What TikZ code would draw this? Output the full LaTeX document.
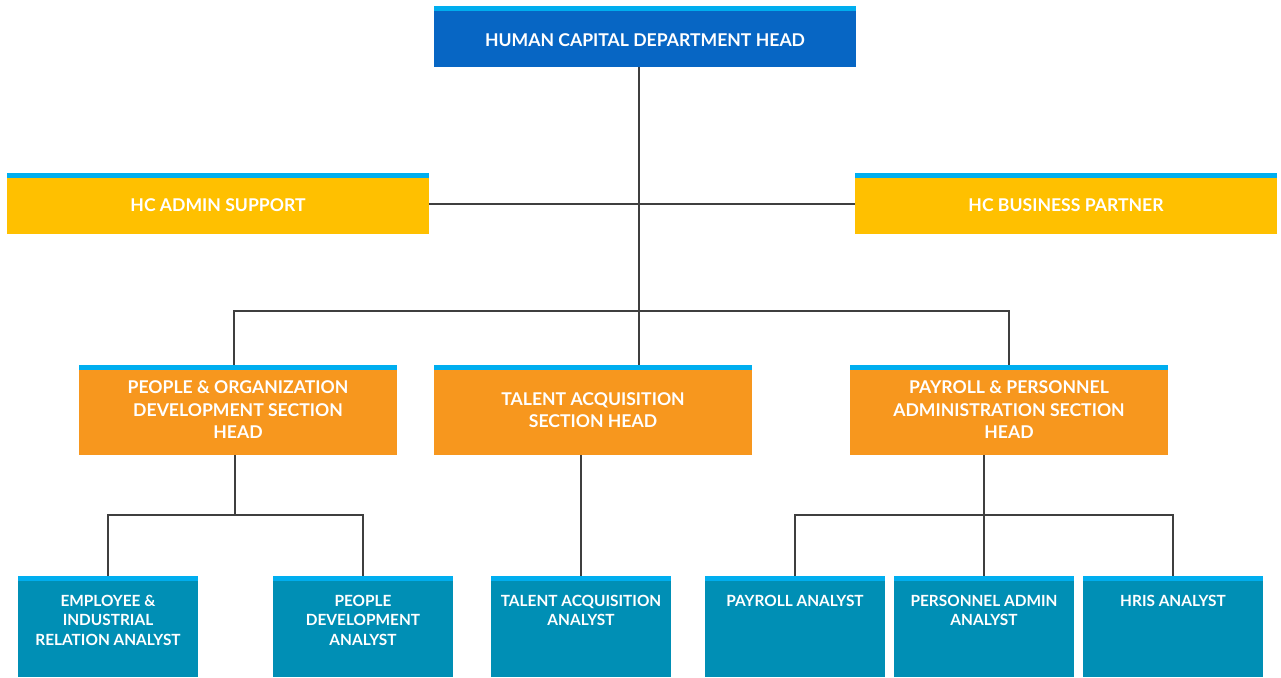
\documentclass[tikz,border=0pt]{standalone}
\usepackage{fontspec}
\setmainfont{Lato}
\usetikzlibrary{positioning, calc}
\definecolor{hcblue}{HTML}{0766C4}
\definecolor{hcstripe}{HTML}{00AEEF}
\definecolor{hcyellow}{HTML}{FFC000}
\definecolor{hcorange}{HTML}{F7971E}
\definecolor{hcteal}{HTML}{008FB5}
\definecolor{hcline}{HTML}{3F3F3F}

\begin{document}
\begin{tikzpicture}[
      x=1pt, y=-1pt,
      box/.style={rectangle, inner sep=0pt, text=white, align=center,
                  font=\bfseries\fontsize{17.6}{22.5}\selectfont,
                  path picture={\fill[hcstripe] (path picture bounding box.north west)
                    rectangle ([yshift=-5pt]path picture bounding box.north east);}},
      headbox/.style={box, fill=hcblue, minimum width=422pt, minimum height=61pt,
                      text height=21pt, text depth=0pt},
      staffbox/.style={box, fill=hcyellow, minimum width=422pt, minimum height=61pt,
                       text height=16pt, text depth=0pt},
      sectbox/.style={box, fill=hcorange, minimum width=318pt, minimum height=90pt},
      anbox/.style={box, fill=hcteal, minimum width=180pt, minimum height=101pt},
      antext/.style={anchor=north, inner sep=0pt, text=white, align=center,
                     font=\bfseries\fontsize{15.4}{19.5}\selectfont},
      link/.style={draw=hcline, line width=2pt}
    ]
      \useasboundingbox (0,0) rectangle (1281,677);
      % top level
      \node[headbox] (head) at (645,36.5) {HUMAN CAPITAL DEPARTMENT HEAD};
      \node[staffbox] (admin) at (218,203.5) {HC ADMIN SUPPORT};
      \node[staffbox] (bp)    at (1066,203.5) {HC BUSINESS PARTNER};
      % section heads
      \node[sectbox] (podsec) at (238,410) {PEOPLE \& ORGANIZATION\\DEVELOPMENT SECTION\\HEAD};
      \node[sectbox] (tasec)  at (593,410) {TALENT ACQUISITION\\SECTION HEAD};
      \node[sectbox] (ppasec) at (1009,410) {PAYROLL \& PERSONNEL\\ADMINISTRATION SECTION\\HEAD};
      % analysts
      \node[anbox] (eira)  at (108,626.5) {};
      \node[anbox] (pda)   at (363,626.5) {};
      \node[anbox] (taa)   at (581,626.5) {};
      \node[anbox] (pya)   at (795,626.5) {};
      \node[anbox] (pnaa)  at (984,626.5) {};
      \node[anbox] (hrisa) at (1173,626.5) {};
      \node[antext] (teira)  at ([yshift=-19pt]eira.north)  {EMPLOYEE \&\\INDUSTRIAL\\RELATION ANALYST};
      \node[antext] (tpda)   at ([yshift=-19pt]pda.north)   {PEOPLE\\DEVELOPMENT\\ANALYST};
      \node[antext] (ttaa)   at ([yshift=-19pt]taa.north)   {TALENT ACQUISITION\\ANALYST};
      \node[antext] (tpya)   at ([yshift=-19pt]pya.north)   {PAYROLL ANALYST};
      \node[antext] (tpnaa)  at ([yshift=-19pt]pnaa.north)  {PERSONNEL ADMIN\\ANALYST};
      \node[antext] (thrisa) at ([yshift=-19pt]hrisa.north) {HRIS ANALYST};
      % junctions
      \coordinate (spine) at (639,311);
      \coordinate (podj) at (235,515);
      \coordinate (ppaj) at (984,515);
      % connectors
      \draw[link] (head.south -| spine) -- (tasec.north -| spine);
      \draw[link] (admin.east) -- (bp.west);
      \draw[link] (podsec.north -| 234,0) |- (spine) -| (ppasec.north);
      \draw[link] (podsec.south -| podj) -- (podj);
      \draw[link] (eira.north) |- (podj) -| (pda.north);
      \draw[link] (tasec.south -| taa) -- (taa.north);
      \draw[link] (ppasec.south -| ppaj) -- (pnaa.north);
      \draw[link] (pya.north) |- (ppaj) -| (hrisa.north);
\end{tikzpicture}
\end{document}
